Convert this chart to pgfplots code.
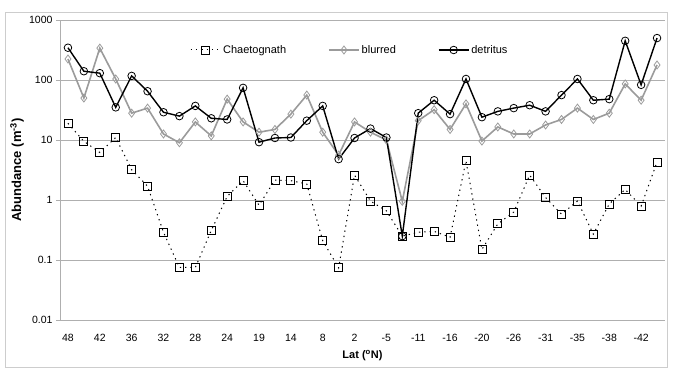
\documentclass[border=0pt]{standalone}
\usepackage{pgfplots}
\pgfplotsset{compat=1.18}
\usepackage{fontspec}
\setmainfont{Liberation Sans}
\definecolor{blur}{RGB}{155,155,155}
\definecolor{gridc}{RGB}{175,175,175}
\definecolor{framec}{RGB}{205,205,205}
\begin{document}
\begin{tikzpicture}[x=1pt,y=1pt]
\useasboundingbox (0,0) rectangle (673,369);
\draw[framec, line width=0.8pt] (5.5,1.5) rectangle (667.5,357);
\begin{axis}[
  at={(60pt,49pt)}, anchor=south west,
  scale only axis, width=605pt, height=300pt,
  ymode=log, ymin=0.01, ymax=1000, xmin=-0.5, xmax=37.5,
  axis x line*=bottom, axis y line*=left,
  axis line style={gridc, line width=0.9pt, -},
  ytick={0.01,0.1,1,10,100,1000},
  yticklabels={0.01,0.1,1,10,100,1000},
  yminorticks=false,
  ymajorgrids, major grid style={gridc, line width=0.9pt},
  xtick={0,2,...,36},
  xticklabels={48,42,36,32,28,24,19,14,8,2,-5,-11,-16,-20,-26,-31,-35,-38,-42},
  minor xtick={-0.5,0.5,...,37.5},
  tick align=outside,
  x tick style={draw=none},
  y tick style={gridc, line width=0.9pt},
  major tick length=4pt, minor tick length=4pt,
  minor x tick style={gridc, line width=0.9pt},
  xticklabel style={yshift=-7pt},
  ticklabel style={font=\fontsize{10.5}{12}\selectfont},
  /pgf/number format/assume math mode=true,
  xlabel={\textbf{Lat (\textsuperscript{o}N)}},
  ylabel={\textbf{Abundance (m\textsuperscript{-3})}},
  xlabel style={at={(axis description cs:0.5,-0.12)}, anchor=center, font=\fontsize{11}{12}\selectfont},
  ylabel style={at={(axis description cs:-0.071,0.5)}, anchor=center, font=\fontsize{13}{14}\selectfont},
  legend style={at={(0.479,0.9)}, anchor=center, draw=none, fill=none,
    font=\fontsize{11}{12}\selectfont,
    /tikz/every even column/.append style={column sep=40pt}},
  legend columns=3,
  legend image code/.code={\draw[mark repeat=2,mark phase=2,#1] plot coordinates {(0pt,0pt) (15pt,0pt) (30pt,0pt)};},
]
\addplot[black, line width=1pt, dash pattern=on 1.3pt off 4pt,
  mark=square, mark size=4pt, mark options={solid, line width=0.8pt, fill=none}]
coordinates {
(0,19) (1,9.5) (2,6.2) (3,11) (4,3.2) (5,1.7) (6,0.29) (7,0.075) (8,0.075) (9,0.31)
(10,1.15) (11,2.1) (12,0.82) (13,2.15) (14,2.1) (15,1.85) (16,0.21) (17,0.074) (18,2.6) (19,0.96)
(20,0.66) (21,0.25) (22,0.29) (23,0.3) (24,0.24) (25,4.5) (26,0.15) (27,0.4) (28,0.63) (29,2.6)
(30,1.1) (31,0.58) (32,0.96) (33,0.27) (34,0.86) (35,1.5) (36,0.79) (37,4.3)
};
\addlegendentry{Chaetognath}
\addplot[blur, line width=1.6pt,
  mark=diamond, mark size=4pt, mark options={solid, line width=0.8pt, fill=none}]
coordinates {
(0,224) (1,50) (2,340) (3,104) (4,28) (5,34) (6,12.6) (7,9) (8,20) (9,11.7)
(10,48) (11,20) (12,13.5) (13,15) (14,27) (15,56) (16,13.5) (17,5.6) (18,20) (19,13.5)
(20,10) (21,0.95) (22,21) (23,32) (24,15) (25,40) (26,9.6) (27,16.5) (28,12.6) (29,12.6)
(30,17.8) (31,22) (32,34) (33,22) (34,28) (35,86) (36,46) (37,178)
};
\addlegendentry{blurred}
\addplot[black, line width=1.4pt,
  mark=o, mark size=3.8pt, mark options={solid, line width=0.8pt, fill=none}]
coordinates {
(0,345) (1,140) (2,130) (3,35) (4,117) (5,65) (6,29) (7,25) (8,37) (9,23)
(10,22) (11,74) (12,9.2) (13,10.8) (14,11) (15,21) (16,37) (17,4.8) (18,10.8) (19,15.5)
(20,11) (21,0.25) (22,28) (23,46) (24,27) (25,104) (26,24) (27,30) (28,34) (29,38)
(30,30) (31,56) (32,104) (33,46) (34,48) (35,450) (36,83) (37,500)
};
\addlegendentry{detritus}
\end{axis}
\end{tikzpicture}
\end{document}
